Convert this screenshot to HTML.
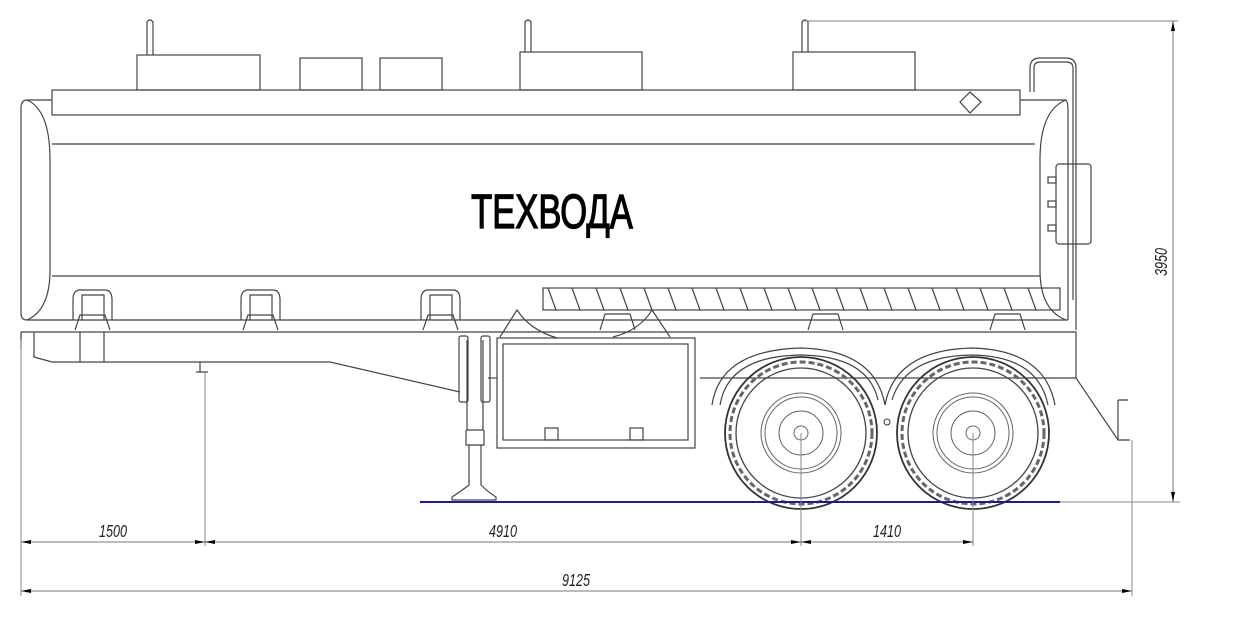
<!DOCTYPE html>
<html><head><meta charset="utf-8"><style>
html,body{margin:0;padding:0;background:#fff;}
svg{display:block;}
text{font-family:"Liberation Sans",sans-serif;}
</style></head><body>
<svg width="1236" height="620" viewBox="0 0 1236 620" xmlns="http://www.w3.org/2000/svg">
<defs>
<marker id="a" viewBox="0 0 10 4" refX="10" refY="2" markerWidth="12" markerHeight="4" markerUnits="userSpaceOnUse" orient="auto-start-reverse"><path d="M0,0 L10,2 L0,4z" fill="#000"/></marker>
</defs>
<g fill="none" stroke="#444" stroke-width="1.2">
<path d="M147,55 V22 Q150,18 153,22 V55"/>
<path d="M525,52 V22 Q528,18 531,22 V52"/>
<path d="M802,52 V22 Q805,18 808,22 V52"/>
<line x1="805" y1="21" x2="1178" y2="21" stroke="#999"/>
<rect x="137" y="55" width="123" height="35"/>
<rect x="300" y="58" width="62" height="32"/>
<rect x="380" y="58" width="62" height="32"/>
<rect x="520" y="52" width="122" height="38"/>
<rect x="793" y="52" width="122" height="38"/>
<rect x="52" y="90" width="968" height="25"/>
<path d="M960,102 L970,92 L981,102 L970,113z"/>
<path d="M27,100 H52 M1020,100 H1066 Q1068,102 1068,110 V320"/>
<path d="M27,100 Q21,100 21,108 V313 Q21,320 27,320 H1068"/>
<path d="M27,100 Q50,110 50,160 V270 Q50,310 27,320"/>
<path d="M1066,100 Q1040,110 1040,160 V270 Q1040,310 1066,320"/>
<line x1="52" y1="144" x2="1035" y2="144"/>
<line x1="52" y1="276" x2="1040" y2="276"/>
<path d="M1030,92 V68 Q1030,58 1040,58 H1066 Q1076,58 1076,68 V330"/>
<path d="M1073,300 V68 Q1073,62 1066,62 H1040 Q1034,62 1034,68 V92"/>
<rect x="1056" y="164" width="35" height="80" rx="3"/>
<rect x="1048" y="177" width="8" height="6"/><rect x="1048" y="201" width="8" height="6"/><rect x="1048" y="225" width="8" height="6"/>
<g id="s"><path d="M73,320 V300 Q73,290 80,290 H105 Q112,290 112,300 V320"/><path d="M82,320 V295 H104 V320"/><path d="M75,330 L80,315 H105 L110,330"/></g>
<use href="#s" x="168"/><use href="#s" x="348"/>
<path d="M600,330 L605,314 H630 L635,330"/><path d="M808,330 L813,314 H838 L843,330"/><path d="M990,330 L995,314 H1020 L1025,330"/>
<rect x="543" y="288" width="517" height="22"/>
<path d="M548,288 l8,22 M572,288 l8,22 M596,288 l8,22 M620,288 l8,22 M644,288 l8,22 M668,288 l8,22 M692,288 l8,22 M716,288 l8,22 M740,288 l8,22 M764,288 l8,22 M788,288 l8,22 M812,288 l8,22 M836,288 l8,22 M860,288 l8,22 M884,288 l8,22 M908,288 l8,22 M932,288 l8,22 M956,288 l8,22 M980,288 l8,22 M1004,288 l8,22 M1028,288 l8,22"/>
<path d="M21,332 H1076 V378 H700"/>
<path d="M21,332 V350 M34,332 V357 L52,362 H330 L460,392"/>
<path d="M80,332 V362 M104,332 V362"/>
<path d="M200,362 V372 M196,372 H208" />
<line x1="488" y1="378" x2="497" y2="378"/>
<rect x="459" y="336" width="9" height="66" rx="2"/>
<rect x="481" y="336" width="9" height="66" rx="2"/>
<path d="M467,340 V430 H483 V340 M466,430 V445 H484 V430 M469,445 V485 Q460,492 452,497 V500 H496 V497 Q488,492 481,485 V445"/>
<rect x="497" y="338" width="198" height="110"/>
<rect x="503" y="344" width="185" height="96"/>
<rect x="545" y="428" width="13" height="12"/><rect x="630" y="428" width="13" height="12"/>
<path d="M500,337 L517,310 Q530,330 557,338 M613,337 Q640,330 652,310 L670,337"/>
<path d="M712,405 Q720,350 801,348 Q875,350 885,405 Q895,350 972,348 Q1045,350 1055,405"/>
<path d="M720,405 Q728,356 801,355 Q868,356 878,400 M892,400 Q905,356 972,355 Q1038,356 1048,405"/>
<path d="M1076,378 L1118,440 H1130"/>
<path d="M1118,400 V440 M1118,400 H1128"/>
</g>
<g fill="none" stroke="#333">
<g id="w">
<circle cx="801" cy="433" r="76" stroke-width="1.8"/>
<circle cx="801" cy="433" r="71" stroke-dasharray="6 3" stroke-width="3" stroke="#666"/>
<circle cx="801" cy="433" r="65" stroke="#444" stroke-width="1.3"/>
<circle cx="801" cy="433" r="40" stroke="#666"/>
<circle cx="801" cy="433" r="36" stroke="#666"/>
<circle cx="801" cy="433" r="22" stroke="#666"/>
<circle cx="801" cy="433" r="7" stroke="#666"/>
</g>
<use href="#w" x="172"/>
<circle cx="887" cy="422" r="3"/>
</g>
<line x1="420" y1="502" x2="1060" y2="502" stroke="#1a1aa0" stroke-width="2"/>
<g stroke="#888" stroke-width="1" fill="none">
<line x1="21" y1="340" x2="21" y2="596"/>
<line x1="205" y1="372" x2="205" y2="546"/>
<line x1="801" y1="433" x2="801" y2="546"/>
<line x1="973" y1="433" x2="973" y2="546"/>
<line x1="1132" y1="440" x2="1132" y2="596"/>
<line x1="1060" y1="502" x2="1180" y2="502"/>
</g>
<g stroke="#777" stroke-width="1">
<line x1="21" y1="542" x2="205" y2="542" marker-start="url(#a)" marker-end="url(#a)"/>
<line x1="205" y1="542" x2="801" y2="542" marker-start="url(#a)" marker-end="url(#a)"/>
<line x1="801" y1="542" x2="973" y2="542" marker-start="url(#a)" marker-end="url(#a)"/>
<line x1="21" y1="591" x2="1132" y2="591" marker-start="url(#a)" marker-end="url(#a)"/>
<line x1="1173" y1="21" x2="1173" y2="502" marker-start="url(#a)" marker-end="url(#a)"/>
</g>
<g font-size="18" font-style="italic" fill="#222">
<text x="113" y="537" text-anchor="middle" transform="translate(113 0) scale(0.7 1) translate(-113 0)">1500</text>
<text x="503" y="537" text-anchor="middle" transform="translate(503 0) scale(0.7 1) translate(-503 0)">4910</text>
<text x="887" y="537" text-anchor="middle" transform="translate(887 0) scale(0.7 1) translate(-887 0)">1410</text>
<text x="576" y="586" text-anchor="middle" transform="translate(576 0) scale(0.7 1) translate(-576 0)">9125</text>
<text x="0" y="0" text-anchor="middle" transform="translate(1167 262) rotate(-90) scale(0.7 1)">3950</text>
</g>
<text x="552" y="228" text-anchor="middle" font-size="48" fill="#000" stroke="#000" stroke-width="1.3" transform="translate(552 0) scale(0.72 1) translate(-552 0)">ТЕХВОДА</text>
</svg>
</body></html>
